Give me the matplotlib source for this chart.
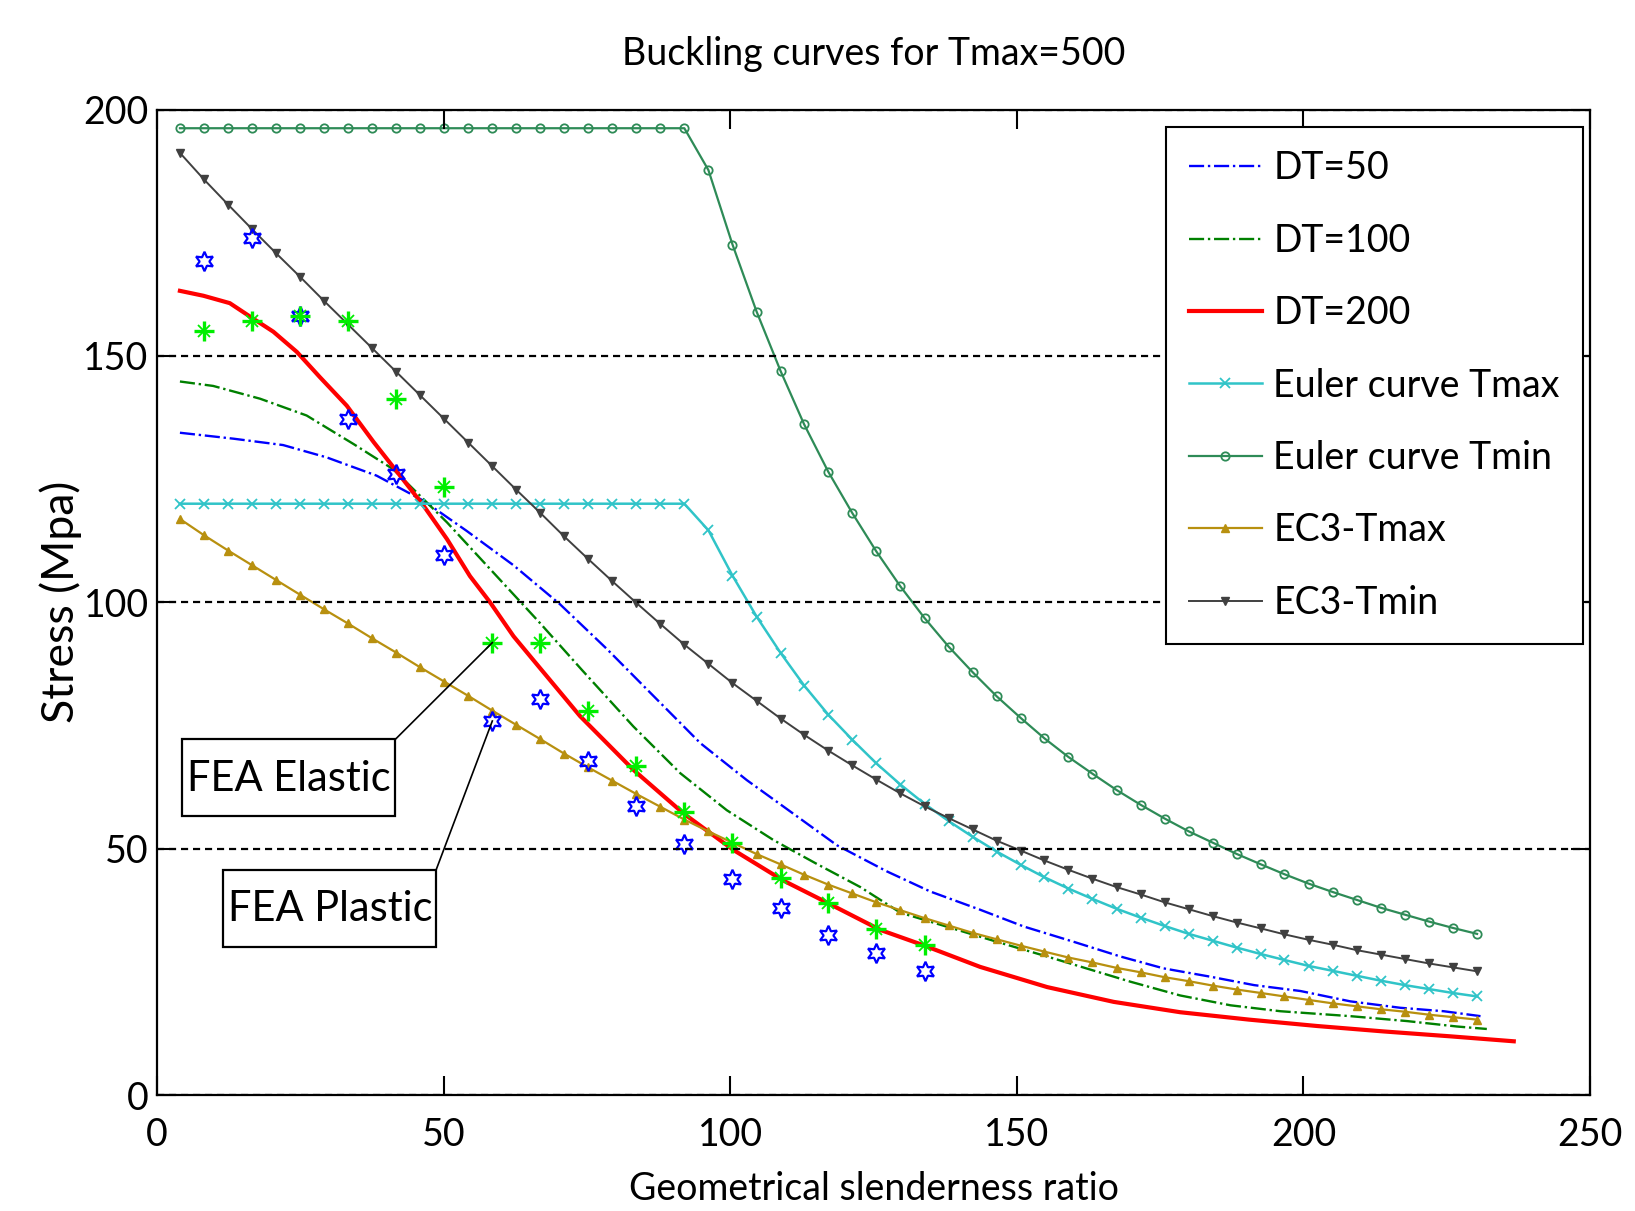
import matplotlib
matplotlib.use("Agg")
import matplotlib.pyplot as plt
from matplotlib.patches import Rectangle

plt.rcParams['font.family'] = ['Lato', 'DejaVu Sans']

# slenderness grid used by the Euler / EC3 curves (markers)
lam = [4.0, 8.2, 12.4, 16.6, 20.8, 25.0, 29.1, 33.3, 37.5, 41.7,
       45.9, 50.1, 54.3, 58.5, 62.7, 66.9, 71.0, 75.2, 79.4, 83.6,
       87.8, 92.0, 96.2, 100.4, 104.6, 108.8, 112.9, 117.1, 121.3, 125.5,
       129.7, 133.9, 138.1, 142.3, 146.5, 150.7, 154.8, 159.0, 163.2, 167.4,
       171.6, 175.8, 180.0, 184.2, 188.4, 192.6, 196.7, 200.9, 205.1, 209.3,
       213.5, 217.7, 221.9, 226.1, 230.3]

euler_tmax = [120.0] * 22 + [
    114.6, 105.4, 97.1, 89.7, 83.1, 77.2, 72.1, 67.3, 63.0, 59.1,
    55.6, 52.4, 49.4, 46.7, 44.2, 41.9, 39.8, 37.8, 36.0, 34.3,
    32.7, 31.3, 29.9, 28.6, 27.4, 26.2, 25.2, 24.2, 23.2, 22.3,
    21.5, 20.7, 20.0]

euler_tmin = [196.2] * 22 + [
    187.7, 172.6, 159.0, 146.9, 136.1, 126.5, 118.1, 110.3, 103.2, 96.8,
    91.0, 85.8, 80.9, 76.5, 72.4, 68.6, 65.2, 61.9, 58.9, 56.1,
    53.5, 51.2, 48.9, 46.8, 44.8, 42.9, 41.2, 39.6, 38.0, 36.6,
    35.2, 33.9, 32.7]

ec3_tmax = [116.9, 113.6, 110.5, 107.5, 104.5, 101.5, 98.6, 95.7, 92.7, 89.8,
            86.8, 83.9, 81.0, 78.0, 75.1, 72.2, 69.3, 66.5, 63.8, 61.1,
            58.5, 55.9, 53.5, 51.2, 48.9, 46.8, 44.7, 42.7, 40.9, 39.1,
            37.5, 35.9, 34.4, 32.9, 31.6, 30.3, 29.1, 27.9, 26.9, 25.8,
            24.9, 23.9, 23.1, 22.2, 21.4, 20.7, 20.0, 19.3, 18.6, 18.0,
            17.4, 16.9, 16.3, 15.8, 15.3]

ec3_tmin = [191.2, 185.8, 180.7, 175.7, 170.8, 166.0, 161.2, 156.4, 151.6, 146.8,
            142.0, 137.2, 132.4, 127.6, 122.8, 118.1, 113.4, 108.8, 104.3, 99.9,
            95.6, 91.4, 87.5, 83.6, 80.0, 76.4, 73.1, 69.9, 66.9, 64.0,
            61.2, 58.6, 56.2, 53.9, 51.6, 49.6, 47.6, 45.7, 43.9, 42.2,
            40.7, 39.1, 37.7, 36.3, 35.0, 33.8, 32.6, 31.5, 30.5, 29.4,
            28.5, 27.6, 26.7, 25.9, 25.1]

# temperature gradient curves
dt50_x = [4.0, 13.3, 22.0, 29.6, 38.3, 46.5, 54.0, 62.2, 70.3, 78.5,
          86.6, 94.8, 102.9, 111.0, 118.6, 127.3, 134.9, 143.6, 151.2, 159.9,
          168.1, 175.6, 183.8, 191.4, 199.5, 208.2, 216.9, 224.5, 230.9]
dt50_y = [134.4, 133.2, 131.9, 129.4, 125.7, 120.6, 114.5, 107.5, 99.6, 90.5,
          81.0, 71.4, 63.9, 57.1, 50.7, 45.4, 41.3, 37.6, 34.2, 31.1,
          28.1, 25.7, 24.0, 22.3, 21.1, 19.0, 17.7, 17.0, 16.0]

dt100_x = [4.0, 9.8, 18.0, 26.1, 34.3, 41.2, 50.6, 58.7, 66.8, 74.1,
           83.1, 91.3, 99.4, 107.6, 115.1, 122.7, 129.7, 146.5, 155.3, 169.8,
           178.5, 187.3, 196.0, 208.2, 218.1, 226.8, 232.0]
dt100_y = [144.8, 143.9, 141.3, 137.9, 132.1, 127.0, 116.2, 106.0, 95.8, 86.3,
           74.8, 65.3, 57.8, 51.7, 46.9, 42.2, 37.0, 31.1, 28.1, 23.0,
           20.2, 18.2, 17.0, 16.0, 15.0, 13.9, 13.4]

dt200_x = [4.0, 8.1, 12.7, 16.2, 20.3, 24.4, 28.4, 33.1, 37.8, 42.4,
           46.5, 50.6, 54.6, 58.1, 62.2, 66.2, 73.8, 83.1, 91.9, 100.6,
           109.3, 115.1, 126.2, 133.7, 143.6, 155.3, 166.9, 178.5, 190.5, 202.4,
           214.0, 225.7, 236.7]
dt200_y = [163.2, 162.2, 160.7, 158.0, 154.9, 150.8, 145.7, 139.9, 132.5, 125.7,
           119.6, 112.8, 105.3, 100.0, 93.1, 87.5, 76.9, 66.0, 57.1, 49.7,
           43.5, 40.1, 33.5, 30.4, 26.0, 21.9, 18.9, 16.8, 15.3, 14.0,
           12.9, 11.9, 10.9]

# FEA results
fea_x = [8.2, 16.6, 25.0, 33.3, 41.7, 50.1, 58.5, 66.9,
         75.2, 83.6, 92.0, 100.4, 108.8, 117.1, 125.5, 133.9]
fea_elastic = [155.1, 157.1, 158.1, 157.1, 141.2, 123.3, 91.8, 91.8,
               77.9, 66.7, 57.5, 51.2, 44.0, 39.0, 33.7, 30.5]
fea_plastic = [169.3, 174.0, 158.1, 137.1, 126.0, 109.5, 75.9, 80.3,
               67.7, 58.6, 50.9, 43.8, 38.0, 32.5, 28.8, 25.1]

FS = 27

fig = plt.figure(figsize=(16.35, 12.11), dpi=100)
ax = fig.add_axes([157 / 1635, 1 - 1095 / 1211, 1433 / 1635, 985.5 / 1211])

ax.plot(dt50_x, dt50_y, color='#0000ff', ls='-.', lw=1.7, label='DT=50')
ax.plot(dt100_x, dt100_y, color='#008000', ls='-.', lw=1.7, label='DT=100')
ax.plot(dt200_x, dt200_y, color='#ff0000', ls='-', lw=3.0, label='DT=200')
ax.plot(lam, euler_tmax, color='#30c4c8', lw=1.8, marker='x', ms=7, mew=1.3,
        label='Euler curve Tmax')
ax.plot(lam, euler_tmin, color='#2e8b57', lw=1.6, marker='o', ms=6, mew=1.3,
        mfc='none', label='Euler curve Tmin')
ax.plot(lam, ec3_tmax, color='#b8900f', lw=1.6, marker='^', ms=6, mew=1.0,
        label='EC3-Tmax')
ax.plot(lam, ec3_tmin, color='#404040', lw=1.4, marker='v', ms=6, mew=1.0,
        label='EC3-Tmin')

# FEA points: hollow hexagrams (plastic) and asterisks (elastic)
ax.plot(fea_x, fea_plastic, ls='none', marker=(6, 1, 0), ms=14, mew=1.6,
        mfc='none', mec='#0000ff')
ax.plot(fea_x, fea_elastic, ls='none', marker='+', ms=15, mew=2.4,
        mec='#00ee00')
ax.plot(fea_x, fea_elastic, ls='none', marker='x', ms=9, mew=1.3,
        mec='#00ee00')

ax.set_xlim(0, 250)
ax.set_ylim(0, 200)
ax.set_xticks([0, 50, 100, 150, 200, 250])
ax.set_yticks([0, 50, 100, 150, 200])
ax.yaxis.grid(True, ls=(0, (3.2, 2.2)), color='k', lw=1.6)
ax.set_axisbelow(False)
for s in ax.spines.values():
    s.set_linewidth(1.6)
ax.tick_params(direction='in', length=14, width=1.5, top=True, right=True,
               labelsize=FS)
ax.tick_params(axis='x', pad=16)
ax.tick_params(axis='y', pad=6)

ax.set_title('Buckling curves for Tmax=500', fontsize=FS, pad=32)
ax.set_xlabel('Geometrical slenderness ratio', fontsize=FS, labelpad=13)
ax.set_ylabel('Stress (Mpa)', fontsize=32, labelpad=1)

leg = ax.legend(loc='upper right', bbox_to_anchor=(0.995, 0.982), fontsize=FS,
                frameon=True, fancybox=False, edgecolor='k', framealpha=1,
                handlelength=1.95, handletextpad=0.3, labelspacing=0.97,
                borderpad=0.62, borderaxespad=0)
leg.get_frame().set_linewidth(1.5)

# text boxes with leader lines
ax.add_patch(Rectangle((4.4, 56.7), 37.2, 15.5, fill=False, ec='k', lw=1.6, zorder=5))
ax.text(23.0, 64.2, 'FEA Elastic', fontsize=FS + 3, ha='center', va='center', zorder=6)
ax.plot([41.6, 58.5], [72.2, 91.8], color='k', lw=1.2)

ax.add_patch(Rectangle((11.6, 30.1), 37.1, 15.6, fill=False, ec='k', lw=1.6, zorder=5))
ax.text(30.2, 37.7, 'FEA Plastic', fontsize=FS + 3, ha='center', va='center', zorder=6)
ax.plot([48.7, 58.5], [45.7, 75.9], color='k', lw=1.2)

fig.savefig('out.png', dpi=100, facecolor='white')
